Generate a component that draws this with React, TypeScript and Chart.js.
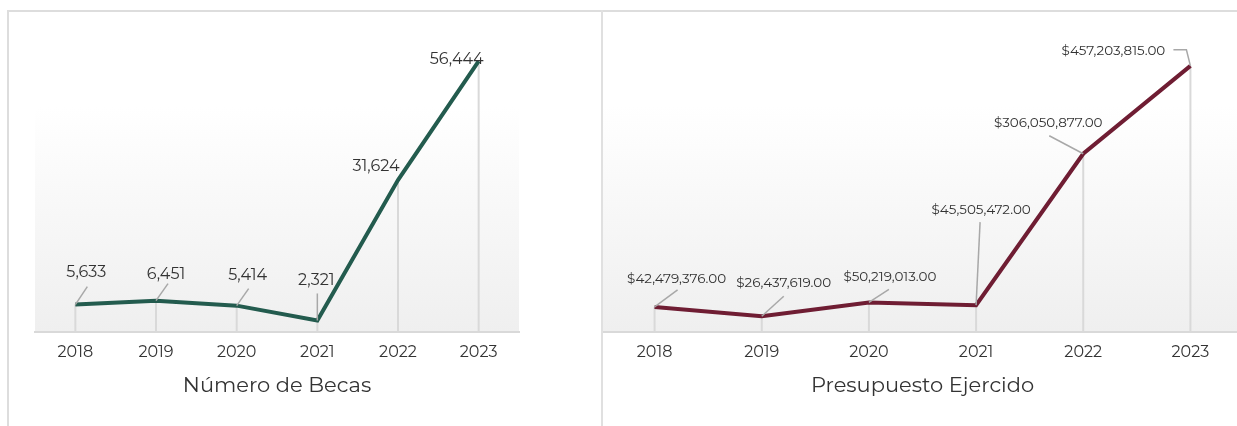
import React, { useEffect, useRef } from "react";
import { Chart, registerables } from "chart.js";

Chart.register(...registerables);

// ---- data ----
const years = ["2018", "2019", "2020", "2021", "2022", "2023"];
const becas = [5633, 6451, 5414, 2321, 31624, 56444];
const presupuesto = [42479376, 26437619, 50219013, 45505472, 306050877, 457203815];
const becasTitle = "Número de Becas";
const presupuestoTitle = "Presupuesto Ejercido";
const becasMax = 60000;
const presupuestoMax = 500000000;

// ---- label placement (styling, offsets from each point in px) ----
const becasLabelPos = [[11, -32], [10, -26], [11, -30], [-1, -40], [-22, -14], [-22, -2]];
const becasLeaders = [
  [[0, 0], [12, -18]],
  [[0, 0], [12, -17]],
  [[0, 0], [12, -17]],
  [[0, 0], [0, -27]],
  [],
  [],
];
const presLabelPos = [[22, -28], [22, -33], [21, -25], [5, -95], [-35, -31], [-77, -15]];
const presLeaders = [
  [[0, 0], [23, -17]],
  [[0, 0], [22, -20]],
  [[0, 0], [20, -13]],
  [[0, 0], [4, -83]],
  [[0, 0], [-34, -18]],
  [[0, 0], [-4, -16], [-17, -16]],
];

const FONT = "Montserrat, Inter, 'Noto Sans', sans-serif";

const fmtInt = (v: number) => v.toLocaleString("en-US");
const fmtMoney = (v: number) =>
  "$" + v.toLocaleString("en-US", { minimumFractionDigits: 2, maximumFractionDigits: 2 });

function makePlugin(labelPos: number[][], leaders: number[][][], fmt: (v: number) => string, fontSize: number) {
  return {
    id: "decor",
    beforeDraw(chart: any) {
      const { ctx, chartArea: a } = chart;
      const g = ctx.createLinearGradient(0, a.top, 0, a.bottom);
      g.addColorStop(0, "#ffffff");
      g.addColorStop(0.22, "#ffffff");
      g.addColorStop(1, "#efefef");
      ctx.save();
      ctx.fillStyle = g;
      ctx.fillRect(a.left, a.top, a.right - a.left, a.bottom - a.top);
      ctx.restore();
    },
    beforeDatasetsDraw(chart: any) {
      const { ctx, chartArea: a } = chart;
      const meta = chart.getDatasetMeta(0);
      ctx.save();
      ctx.strokeStyle = "#d9d9d9";
      ctx.lineWidth = 2;
      meta.data.forEach((p: any) => {
        ctx.beginPath();
        ctx.moveTo(p.x, p.y);
        ctx.lineTo(p.x, a.bottom);
        ctx.stroke();
      });
      ctx.restore();
    },
    afterDatasetsDraw(chart: any) {
      const { ctx } = chart;
      const meta = chart.getDatasetMeta(0);
      const values = chart.data.datasets[0].data as number[];
      ctx.save();
      ctx.strokeStyle = "#a8a8a8";
      ctx.lineWidth = 1.5;
      meta.data.forEach((p: any, i: number) => {
        const pts = leaders[i];
        if (!pts || pts.length < 2) return;
        ctx.beginPath();
        ctx.moveTo(p.x + pts[0][0], p.y + pts[0][1]);
        for (let k = 1; k < pts.length; k++) ctx.lineTo(p.x + pts[k][0], p.y + pts[k][1]);
        ctx.stroke();
      });
      ctx.fillStyle = "#333333";
      ctx.font = `${fontSize}px ${FONT}`;
      ctx.textAlign = "center";
      ctx.textBaseline = "middle";
      meta.data.forEach((p: any, i: number) => {
        const o = labelPos[i];
        ctx.fillText(fmt(values[i]), p.x + o[0], p.y + o[1]);
      });
      ctx.restore();
    },
  };
}

function LineChart(props: {
  values: number[];
  color: string;
  title: string;
  max: number;
  padding: { left: number; right: number; top: number; bottom: number };
  labelPos: number[][];
  leaders: number[][][];
  fmt: (v: number) => string;
  labelSize: number;
}) {
  const ref = useRef<HTMLCanvasElement | null>(null);
  useEffect(() => {
    if (!ref.current) return;
    const chart = new Chart(ref.current, {
      type: "line",
      data: {
        labels: years,
        datasets: [
          {
            data: props.values,
            borderColor: props.color,
            backgroundColor: props.color,
            borderWidth: 4,
            pointRadius: 0,
            tension: 0,
          },
        ],
      },
      options: {
        animation: false,
        responsive: true,
        maintainAspectRatio: false,
        layout: { padding: props.padding },
        plugins: { legend: { display: false }, tooltip: { enabled: false } },
        scales: {
          x: {
            offset: true,
            grid: { display: false, drawTicks: false },
            border: { display: true, color: "#d9d9d9", width: 2 },
            ticks: { color: "#333333", font: { family: FONT, size: 16 }, padding: 11 },
            title: {
              display: true,
              text: props.title,
              color: "#333333",
              font: { family: FONT, size: 21 },
              padding: { top: 0, bottom: 4 },
            },
          },
          y: { display: false, min: 0, max: props.max },
        },
      },
      plugins: [makePlugin(props.labelPos, props.leaders, props.fmt, props.labelSize)],
    });
    return () => chart.destroy();
  }, []);
  return <canvas ref={ref} />;
}

export default function App() {
  return (
    <div style={{ position: "fixed", inset: 0, overflow: "hidden", background: "#fff" }}>
      <div style={{ position: "absolute", left: 8, top: 11, width: 594, height: 415 }}>
        <LineChart
          values={becas}
          color="#235b4e"
          title={becasTitle}
          max={becasMax}
          padding={{ left: 27, right: 83, top: 33, bottom: 24 }}
          labelPos={becasLabelPos}
          leaders={becasLeaders}
          fmt={fmtInt}
          labelSize={16}
        />
      </div>
      <div style={{ position: "absolute", left: 601, top: 11, width: 643, height: 415 }}>
        <LineChart
          values={presupuesto}
          color="#6f1d33"
          title={presupuestoTitle}
          max={presupuestoMax}
          padding={{ left: 0, right: 0, top: 30, bottom: 24 }}
          labelPos={presLabelPos}
          leaders={presLeaders}
          fmt={fmtMoney}
          labelSize={13.5}
        />
      </div>
      <div style={{ position: "absolute", left: 7, top: 10, width: 1240, height: 2, background: "#dddddd" }} />
      <div style={{ position: "absolute", left: 7, top: 10, width: 2, height: 420, background: "#dddddd" }} />
      <div style={{ position: "absolute", left: 601, top: 10, width: 2, height: 420, background: "#e0e0e0" }} />
    </div>
  );
}
